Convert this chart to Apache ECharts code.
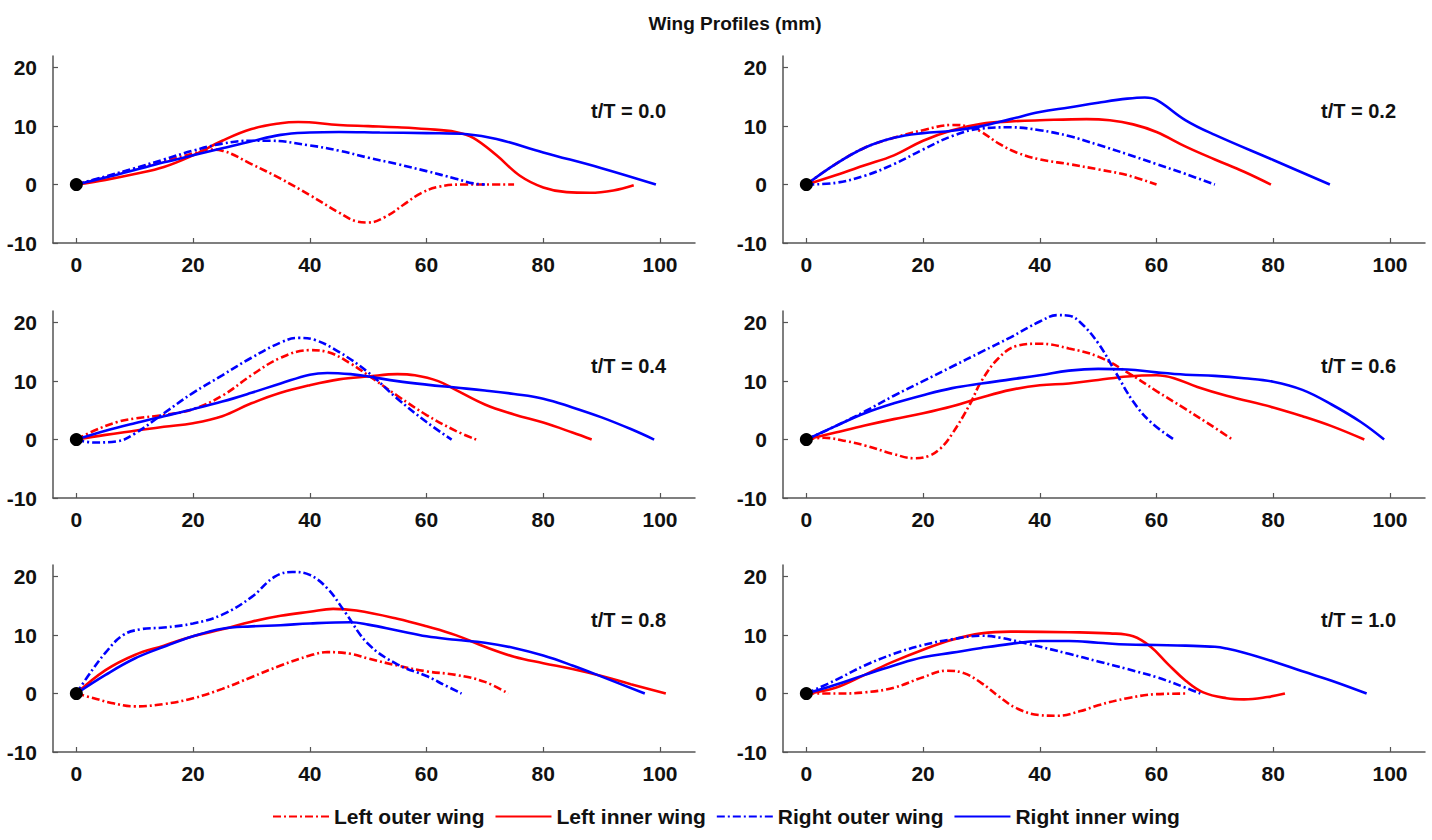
<!DOCTYPE html>
<html>
<head>
<meta charset="utf-8">
<script src="https://cdn.jsdelivr.net/npm/echarts@6/dist/echarts.min.js"></script>
<style>
html,body{margin:0;padding:0;background:#fff;}
#chart{width:1432px;height:840px;}
</style>
</head>
<body>
<div id="chart"></div>
<script>
// ---- Data (x, y in mm) ----
const panelLabels = ['t/T = 0.0', 't/T = 0.2', 't/T = 0.4', 't/T = 0.6', 't/T = 0.8', 't/T = 1.0'];
const seriesNames = ['Left outer wing', 'Left inner wing', 'Right outer wing', 'Right inner wing'];
const xTicks = [0, 20, 40, 60, 80, 100];
const yTicks = [-10, 0, 10, 20];

// t/T = 0.0
const leftOuter00 = [[0,0],[5,1.3],[10,2.7],[15,4],[20,5.3],[23,6],[25,5.8],[30,3.5],[35,1],[40,-1.8],[45,-4.8],[48,-6.3],[50,-6.5],[53,-5.5],[56,-3.5],[59,-1.5],[62,-0.4],[66,0],[70,0],[75,0]];
const leftInner00 = [[0,0],[5,0.8],[10,1.8],[15,3],[20,5],[25,7.5],[30,9.5],[35,10.5],[38,10.7],[45,10.2],[50,10],[55,9.8],[60,9.5],[65,9],[68,8],[72,5],[76,1.5],[80,-0.5],[84,-1.3],[88,-1.4],[92,-1],[95.5,-0.1]];
const rightOuter00 = [[0,0],[5,1.4],[10,2.8],[15,4.3],[20,5.8],[25,7],[30,7.5],[33,7.5],[40,6.7],[45,5.8],[50,4.6],[55,3.5],[60,2.3],[65,1],[68,0.2],[70,0]];
const rightInner00 = [[0,0],[5,1.2],[10,2.5],[15,3.8],[20,5],[25,6.2],[30,7.4],[35,8.5],[40,8.9],[45,9],[52,8.9],[60,8.8],[67,8.6],[72,7.8],[80,5.5],[90,2.8],[99.3,0]];

// t/T = 0.2
const leftOuter02 = [[0,0],[5,3.5],[10,6.3],[15,8],[20,9.3],[25,10.2],[28,9.9],[30,9],[33,7],[36,5.5],[40,4.3],[45,3.5],[50,2.6],[55,1.6],[60,0]];
const leftInner02 = [[0,0],[5,1.6],[10,3.3],[15,5],[20,7.5],[25,9.3],[30,10.4],[35,10.8],[40,11],[48,11.2],[52,11],[56,10.3],[60,9],[65,6.5],[70,4.3],[75,2.2],[79.6,0]];
const rightOuter02 = [[0,0],[5,0.3],[10,1.5],[15,3.5],[20,6],[25,8.3],[30,9.6],[35,9.8],[40,9.3],[45,8.3],[50,6.8],[55,5.2],[60,3.5],[65,1.8],[70,0]];
const rightInner02 = [[0,0],[5,3.5],[10,6.3],[15,8],[20,8.8],[25,9.2],[30,10],[35,11.2],[40,12.4],[45,13.2],[50,14],[55,14.7],[58,14.9],[60,14.5],[65,11],[70,8.5],[80,4.2],[89.7,0]];

// t/T = 0.4
const leftOuter04 = [[0,0],[3,1.5],[7,3],[10,3.6],[15,4.2],[20,5.2],[25,7.5],[30,11],[35,14],[40,15.3],[43,15],[47,13],[50,11],[55,7.5],[60,4.2],[65,1.5],[68.5,0]];
const leftInner04 = [[0,0],[5,0.8],[10,1.5],[15,2.2],[20,2.8],[25,4],[30,6.2],[35,8],[40,9.3],[45,10.3],[50,10.8],[55,11.2],[58,11],[62,10],[65,8.5],[70,6],[75,4.3],[80,2.9],[85,1.2],[88.3,0]];
const rightOuter04 = [[0,0],[3,-0.5],[7,-0.3],[10,1],[15,4.5],[20,8],[25,11],[30,14],[35,16.6],[38,17.4],[41,17],[45,15],[50,11.5],[55,7],[60,3],[64.3,0]];
const rightInner04 = [[0,0],[5,1.5],[10,2.8],[15,4],[20,5.2],[25,6.5],[30,8],[35,9.6],[40,11.1],[43,11.4],[47,11.2],[50,10.8],[55,10],[60,9.4],[65,8.9],[70,8.4],[75,7.8],[80,7],[85,5.5],[90,3.8],[95,1.8],[99,0]];

// t/T = 0.6
const leftOuter06 = [[0,0],[3,0.3],[7,-0.3],[10,-1],[15,-2.5],[18.5,-3.2],[21,-2.8],[23,-1.5],[25,1],[28,6],[30,10],[33,14],[36,16],[40,16.4],[45,15.6],[50,14.2],[55,11.5],[60,8.3],[65,5.2],[70,2],[73,0]];
const leftInner06 = [[0,0],[5,1.2],[10,2.4],[15,3.5],[20,4.5],[25,5.7],[30,7.2],[35,8.5],[40,9.3],[45,9.6],[50,10.2],[55,10.8],[60,11],[63,10.5],[67,9],[72,7.5],[80,5.5],[85,4],[90,2.3],[95.6,0]];
const rightOuter06 = [[0,0],[5,2.3],[10,4.8],[15,7.5],[20,10],[25,12.5],[30,15],[35,17.5],[40,20.2],[43,21.3],[45,21.2],[47,20],[50,16.5],[53,11.5],[56,6.5],[59,3],[63,0]];
const rightInner06 = [[0,0],[5,2.3],[10,4.5],[15,6.2],[20,7.6],[25,8.8],[30,9.6],[35,10.3],[40,11],[45,11.8],[50,12.1],[55,12],[60,11.5],[65,11.1],[70,10.9],[75,10.5],[80,9.9],[85,8.5],[90,6],[95,3],[99,0]];

// t/T = 0.8
const leftOuter08 = [[0,0],[3,-0.8],[6,-1.6],[10,-2.2],[15,-1.8],[20,-0.8],[25,0.8],[30,2.8],[35,4.8],[40,6.5],[43,7.1],[47,6.8],[50,6],[55,4.8],[60,3.8],[65,3.2],[70,2],[74,0]];
const leftInner08 = [[0,0],[5,4],[10,6.6],[15,8.2],[20,9.8],[25,11],[30,12.3],[35,13.3],[40,14],[44,14.5],[48,14.2],[55,12.8],[60,11.5],[65,10],[70,8],[75,6.3],[80,5.2],[85,4.2],[90,3],[95,1.6],[101,0]];
const rightOuter08 = [[0,0],[2,3],[5,7],[8,10],[11,11],[15,11.3],[20,12],[25,13.5],[30,16.5],[34,20],[37,20.8],[40,20.3],[43,18],[46,14],[50,8.5],[55,5],[60,3],[63,1.5],[66,0]];
const rightInner08 = [[0,0],[5,3.2],[10,6],[15,8],[20,9.8],[25,11.1],[30,11.5],[35,11.7],[40,12],[47,12.2],[50,11.8],[55,10.8],[60,9.8],[65,9.2],[70,8.7],[75,7.8],[80,6.5],[85,4.8],[90,2.9],[97.4,0]];

// t/T = 1.0
const leftOuter10 = [[0,0],[5,0],[10,0.2],[15,1],[20,2.8],[24,3.9],[27,3.5],[30,1.8],[33,-0.5],[36,-2.5],[40,-3.7],[43,-3.8],[47,-3],[50,-2],[55,-0.8],[60,-0.1],[65,0]];
const leftInner10 = [[0,0],[5,1],[10,3.2],[15,5.5],[20,7.5],[25,9.2],[30,10.3],[35,10.6],[45,10.5],[52,10.3],[56,9.8],[59,8],[62,5],[65,2.2],[68,0.2],[72,-0.8],[75,-1],[79,-0.6],[82,0]];
const rightOuter10 = [[0,0],[5,2.3],[10,4.8],[15,6.8],[20,8.3],[25,9.3],[30,9.9],[33,9.6],[38,8.5],[45,6.8],[50,5.5],[55,4.2],[60,2.8],[65,1],[67.5,0]];
const rightInner10 = [[0,0],[5,1.5],[10,3.2],[15,4.8],[20,6.2],[25,7],[30,7.8],[35,8.5],[40,9],[45,9],[50,8.7],[55,8.4],[60,8.3],[65,8.2],[70,8],[72,7.7],[75,7],[80,5.5],[85,3.8],[90,2.2],[96,0]];

const origin = [[0, 0]];

const panelData = [
  [leftOuter00, leftInner00, rightOuter00, rightInner00],
  [leftOuter02, leftInner02, rightOuter02, rightInner02],
  [leftOuter04, leftInner04, rightOuter04, rightInner04],
  [leftOuter06, leftInner06, rightOuter06, rightInner06],
  [leftOuter08, leftInner08, rightOuter08, rightInner08],
  [leftOuter10, leftInner10, rightOuter10, rightInner10]
];

// ---- Layout / style ----
const FONT = '"Liberation Sans", Arial, Helvetica, sans-serif';
const RED = '#ff0000', BLUE = '#0000ff';
const DASHDOT = [8, 3, 2, 3];
const styles = [
  {color: RED, type: DASHDOT},
  {color: RED, type: 'solid'},
  {color: BLUE, type: DASHDOT},
  {color: BLUE, type: 'solid'}
];
const colLeft = [53, 783];
const rowTop = [56, 311, 565];
const gridW = 642, gridH = 187;

const grids = [], xAxes = [], yAxes = [], series = [], graphics = [];
for (let p = 0; p < 6; p++) {
  const c = p % 2, r = Math.floor(p / 2);
  grids.push({left: colLeft[c], top: rowTop[r], width: gridW, height: gridH, containLabel: false, outerBoundsMode: 'none'});
  xAxes.push({
    type: 'value', gridIndex: p, min: -4, max: 106,
    axisLine: {show: true, onZero: false, lineStyle: {color: '#555', width: 1.5}},
    axisTick: {show: true, inside: true, length: 5, customValues: xTicks, lineStyle: {color: '#555', width: 1.2}},
    axisLabel: {customValues: xTicks, margin: 11, color: '#111', fontSize: 21, fontWeight: 'bold', fontFamily: FONT},
    splitLine: {show: false}
  });
  yAxes.push({
    type: 'value', gridIndex: p, min: -10, max: 22,
    axisLine: {show: true, onZero: false, lineStyle: {color: '#555', width: 1.5}},
    axisTick: {show: true, inside: true, length: 5, customValues: yTicks, lineStyle: {color: '#555', width: 1.2}},
    axisLabel: {customValues: yTicks, margin: 16, color: '#111', fontSize: 21, fontWeight: 'bold', fontFamily: FONT},
    splitLine: {show: false}
  });
  for (let s = 0; s < 4; s++) {
    series.push({
      name: seriesNames[s], type: 'line', xAxisIndex: p, yAxisIndex: p,
      data: panelData[p][s], symbol: 'none', showSymbol: false, smooth: 0.4,
      lineStyle: {color: styles[s].color, width: 2.6, type: styles[s].type},
      itemStyle: {color: styles[s].color},
      z: 2
    });
  }
  series.push({
    type: 'scatter', xAxisIndex: p, yAxisIndex: p, data: origin,
    symbol: 'circle', symbolSize: 13, itemStyle: {color: '#000', opacity: 1}, z: 5, silent: true
  });
  graphics.push({
    type: 'text',
    x: colLeft[c] + 613, y: rowTop[r] + 55,
    style: {text: panelLabels[p], align: 'right', verticalAlign: 'middle', fill: '#111',
            font: 'bold 20px ' + FONT}
  });
}
graphics.push({
  type: 'text', x: 735, y: 23,
  style: {text: 'Wing Profiles (mm)', align: 'center', verticalAlign: 'middle', fill: '#111',
          font: 'bold 19px ' + FONT}
});

const chart = echarts.init(document.getElementById('chart'), null, {renderer: 'svg'});
chart.setOption({
  backgroundColor: '#fff',
  animation: false,
  grid: grids,
  xAxis: xAxes,
  yAxis: yAxes,
  legend: {
    data: seriesNames,
    left: 272, top: 806, padding: 0,
    itemWidth: 56, itemHeight: 14, itemGap: 10,
    itemStyle: {opacity: 0},
    textStyle: {fontSize: 21, fontWeight: 'bold', color: '#111', fontFamily: FONT}
  },
  graphic: graphics,
  series: series
});
</script>
</body>
</html>
